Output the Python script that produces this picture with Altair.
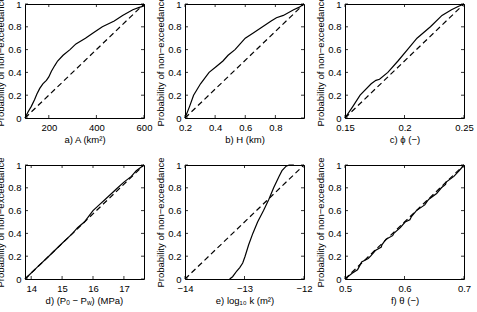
import altair as alt
import pandas as pd

# ---- sample CDF curves (value, probability of non-exceedance) ----
a_x = [100, 112, 126, 140, 150, 162, 175, 190, 200, 211, 225, 237, 260, 289, 314, 354, 389, 425, 475, 510, 553, 580, 596, 600]
a_p = [0, 0.05, 0.1, 0.16, 0.21, 0.26, 0.3, 0.33, 0.36, 0.41, 0.46, 0.5, 0.55, 0.6, 0.65, 0.7, 0.75, 0.8, 0.85, 0.9, 0.95, 0.97, 0.98, 1.0]

b_x = [0.2, 0.23, 0.257, 0.28, 0.303, 0.36, 0.406, 0.452, 0.486, 0.532, 0.566, 0.60, 0.658, 0.715, 0.772, 0.807, 0.853, 0.921, 0.956, 0.99]
b_p = [0, 0.1, 0.2, 0.25, 0.3, 0.4, 0.45, 0.5, 0.55, 0.6, 0.65, 0.7, 0.75, 0.8, 0.85, 0.88, 0.9, 0.95, 0.97, 1.0]

c_x = [0.15, 0.1565, 0.1627, 0.172, 0.176, 0.179, 0.186, 0.1945, 0.2025, 0.2105, 0.2218, 0.2315, 0.2395, 0.2455, 0.25]
c_p = [0, 0.1, 0.2, 0.3, 0.33, 0.34, 0.4, 0.5, 0.6, 0.7, 0.8, 0.9, 0.95, 0.98, 1.0]

d_x = [13.8, 14.18, 14.57, 14.95, 15.34, 15.5, 15.72, 15.86, 16.0, 16.2, 16.4, 16.6, 16.8, 17.0, 17.24, 17.4, 17.65]
d_p = [0, 0.1, 0.2, 0.3, 0.4, 0.45, 0.5, 0.55, 0.6, 0.65, 0.7, 0.75, 0.8, 0.85, 0.9, 0.95, 1.0]

e_x = [-13.25, -13.2, -13.13, -13.08, -13.03, -12.99, -12.93, -12.86, -12.78, -12.68, -12.59, -12.51, -12.42, -12.37, -12.3, -12.25, -12.17]
e_p = [0, 0.02, 0.07, 0.1, 0.14, 0.2, 0.3, 0.4, 0.5, 0.6, 0.7, 0.8, 0.9, 0.95, 0.99, 1.0, 1.0]

f_x = [0.5, 0.512, 0.521, 0.523, 0.528, 0.539, 0.543, 0.551, 0.561, 0.562, 0.569, 0.580, 0.582, 0.593, 0.601,
       0.609, 0.612, 0.620, 0.634, 0.638, 0.641, 0.654, 0.662, 0.669, 0.670, 0.683, 0.692, 0.7]
f_p = [0, 0.05, 0.08, 0.1, 0.15, 0.18, 0.2, 0.25, 0.28, 0.3, 0.35, 0.38, 0.4, 0.45, 0.5,
       0.52, 0.55, 0.6, 0.65, 0.68, 0.7, 0.75, 0.8, 0.83, 0.85, 0.9, 0.95, 1.0]

# ---- axis ranges and tick labels ----
a_dom, a_ticks = [100, 600], [200, 400, 600]
b_dom, b_ticks = [0.2, 0.99], [0.2, 0.4, 0.6, 0.8]
c_dom, c_ticks = [0.15, 0.25], [0.15, 0.2, 0.25]
d_dom, d_ticks = [13.8, 17.65], [14, 15, 16, 17]
e_dom, e_ticks = [-14, -12], [-14, -13, -12]
f_dom, f_ticks = [0.5, 0.7], [0.5, 0.6, 0.7]
p_ticks = [0, 0.2, 0.4, 0.6, 0.8, 1]

y_title = "Probability of non\u2212exceedance"
titles = ["a) A (km\u00b2)", "b) H (km)", "c) \u03d5 (\u2212)", "", "e) log\u2081\u2080 k (m\u00b2)", "f) \u03b8 (\u2212)"]

W, H = 119, 114
FONT = "Liberation Sans"
FS = 9.5


def panel(xs, ps, dom, ticks, title, extra=None):
    curve = pd.DataFrame({"x": xs, "p": ps, "i": list(range(len(xs)))})
    diag = pd.DataFrame({"x": dom, "p": [0, 1], "i": [0, 1]})
    xt = pd.DataFrame({"x": ticks})
    yt = pd.DataFrame({"p": p_ticks})

    xscale = alt.Scale(domain=dom, nice=False, zero=False)
    yscale = alt.Scale(domain=[0, 1], nice=False, zero=False)
    X = alt.X("x:Q", scale=xscale,
              axis=alt.Axis(values=ticks, title=title, format="~r"))
    Y = alt.Y("p:Q", scale=yscale,
              axis=alt.Axis(values=p_ticks, title=y_title, format="~r"))

    dashed = alt.Chart(diag).mark_line(
        color="black", strokeWidth=1.2, strokeDash=[5.5, 3.5]
    ).encode(x=X, y=Y, order="i:Q")
    solid = alt.Chart(curve).mark_line(
        color="black", strokeWidth=1.2
    ).encode(x=X, y=Y, order="i:Q")

    # inward tick marks on all four sides of the box
    tb = alt.Chart(xt).mark_rule(color="black", strokeWidth=0.8).encode(
        x=X, y=alt.value(H - 3), y2=alt.value(H))
    tt = alt.Chart(xt).mark_rule(color="black", strokeWidth=0.8).encode(
        x=X, y=alt.value(0), y2=alt.value(3))
    tl = alt.Chart(yt).mark_rule(color="black", strokeWidth=0.8).encode(
        y=Y, x=alt.value(0), x2=alt.value(3))
    tr = alt.Chart(yt).mark_rule(color="black", strokeWidth=0.8).encode(
        y=Y, x=alt.value(W - 3), x2=alt.value(W))

    layers = [dashed, solid, tb, tt, tl, tr]
    if extra is not None:
        layers += extra
    return alt.layer(*layers).properties(width=W, height=H)


# axis title of panel d, built from pieces so the subscripts sit low and small
d_pieces = pd.DataFrame({
    "t": ["d) (P", "0", "\u2212 P", "w", ") (MPa)"],
    "px": [20.6, 41.2, 47.4, 61.9, 66.6],
    "dy": [0, 4, 0, 4, 0],
    "fs": [FS, 6.5, FS, 6.5, FS],
})
d_title = [
    alt.Chart(d_pieces[d_pieces["t"] == t]).mark_text(
        align="left", baseline="top", font=FONT, fontSize=float(fs), color="black"
    ).encode(text="t:N", x=alt.value(float(px)), y=alt.value(H + 16.5 + dy))
    for t, px, dy, fs in d_pieces.itertuples(index=False)
]

charts = [
    panel(a_x, a_p, a_dom, a_ticks, titles[0]),
    panel(b_x, b_p, b_dom, b_ticks, titles[1]),
    panel(c_x, c_p, c_dom, c_ticks, titles[2]),
    panel(d_x, d_p, d_dom, d_ticks, titles[3], extra=d_title),
    panel(e_x, e_p, e_dom, e_ticks, titles[4]),
    panel(f_x, f_p, f_dom, f_ticks, titles[5]),
]

chart = alt.concat(
    *charts, columns=3, spacing={"row": 47, "column": 41}, bounds="flush"
).properties(
    padding={"left": -5, "top": -5, "right": 3, "bottom": 4},
    background="white",
).configure_view(
    stroke="black", strokeWidth=1
).configure_axis(
    domain=False, ticks=False, tickSize=0, grid=False,
    labelFont=FONT, labelFontSize=FS, labelColor="black", labelPadding=4,
    titleFont=FONT, titleFontSize=FS, titleColor="black", titleFontWeight="normal",
    titlePadding=3, labelFlush=False, labelOverlap=False,
).configure_axisY(
    titlePadding=2,
)

chart.save("out.html", embed_options={"renderer": "svg", "actions": False})
